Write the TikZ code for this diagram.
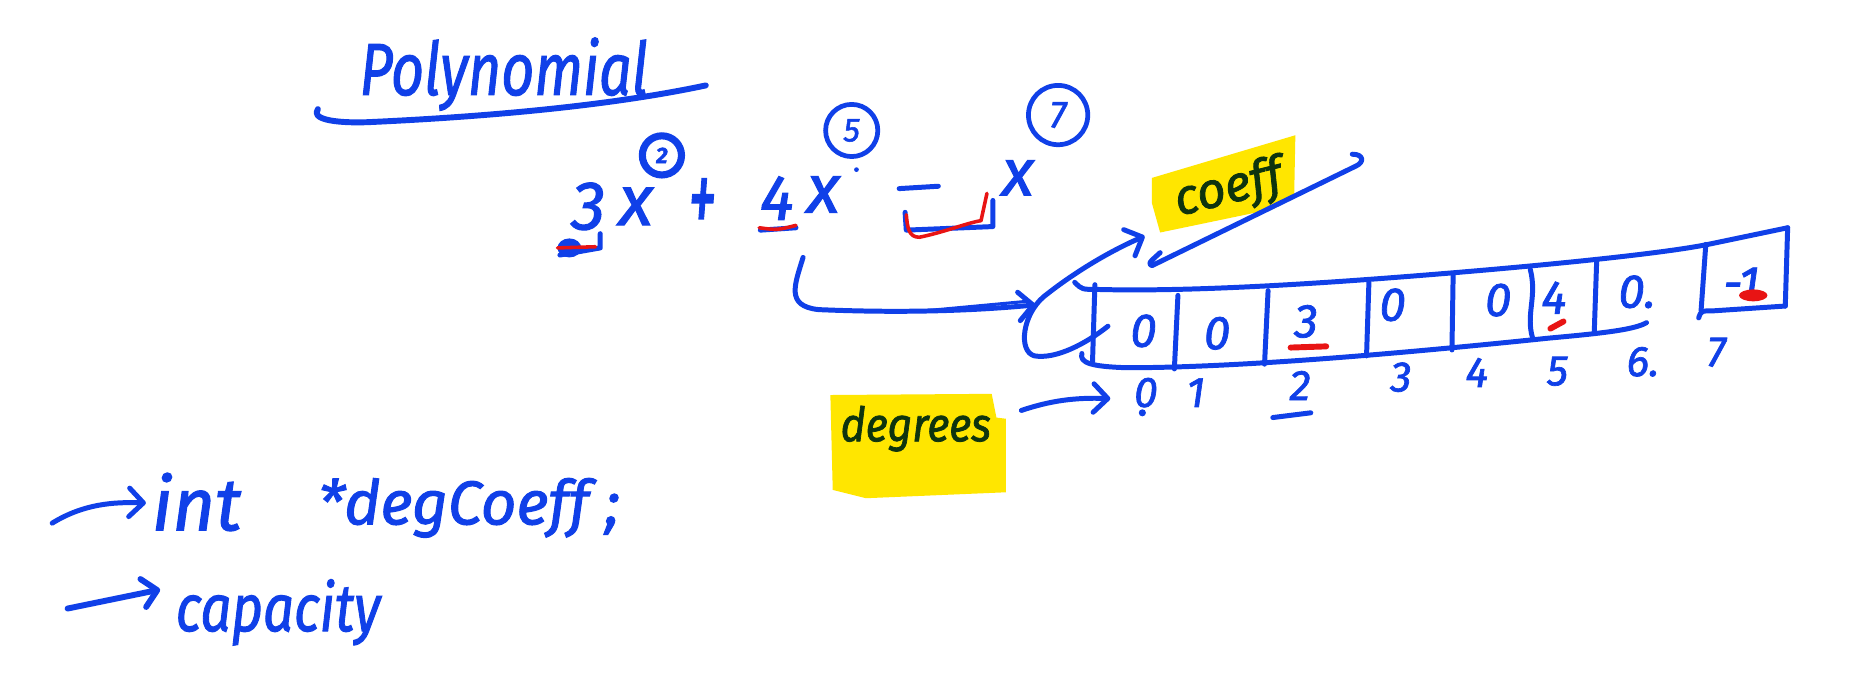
\documentclass[tikz,border=0pt]{standalone}
\usepackage{fontspec}
\setmainfont{Fira Sans}[FakeBold=1.6]
\usepackage{graphicx}
\usetikzlibrary{arrows.meta}
\definecolor{pen}{RGB}{16,64,232}
\definecolor{redpen}{RGB}{232,20,20}
\definecolor{hl}{RGB}{255,230,0}
\definecolor{ink}{RGB}{14,52,14}
\newcommand{\hfs}[1]{\fontsize{#1}{#1}\selectfont}
\tikzset{
  stroke/.style={draw=pen, line width=4.2pt, line cap=round, line join=round},
  redstroke/.style={draw=redpen, line width=3pt, line cap=round, line join=round},
  hand/.style={text=pen, inner sep=0pt, font=\itshape},
  hiltext/.style={text=ink, inner sep=0pt, font=\itshape},
  penarrow/.style={-{Straight Barb[length=12pt,width=24pt,line cap=round,line join=round]}},
  expcircle/.style={draw=pen, circle, line width=3.5pt, inner sep=0pt, text=pen, font=\itshape},
}
\begin{document}
\begin{tikzpicture}[x=1pt,y=-1pt]
\useasboundingbox (0,0) rectangle (1568,570);
\fill[white] (0,0) rectangle (1568,570);

% title
\node[hand, anchor=base west] (title) at (303,80) {\hfs{62}\scalebox{0.78}[1]{Polynomial}};
\draw[stroke, line width=5pt] (268,92) .. controls (262,100) and (280,104) .. (310,103) .. controls (420,98) and (520,88) .. (595,72);

% expression
\node[hand] (n3) at (496,174) {\hfs{58}3};
\node[hand] (x1) at (536,174) {\hfs{60}x};
\node[expcircle, line width=6pt, minimum size=33pt] (e2) at (558,131) {\hfs{19}\bfseries 2};
\node[hand] (plus) at (592,174) {\hfs{60}\scalebox{0.8}[1.5]{+}};
\node[hand] (n4) at (655,167) {\hfs{54}4};
\node[hand] (x2) at (694,164) {\hfs{58}x};
\node[expcircle, line width=4pt, minimum size=44pt] (e5) at (718,110) {\hfs{28}5};
\node[hand] (x3) at (858,150) {\hfs{56}x};
\node[expcircle, line width=4pt, minimum size=50pt] (e7) at (892,97) {\hfs{32}7};
\draw[stroke] (758,159) -- (791,157);
\draw[stroke] (763,179) -- (764,194) -- (837,191) -- (837,169);
\draw[redstroke] (764,181) .. controls (765,192) and (766,200) .. (775,200) .. controls (795,196) and (815,188) .. (827,186) -- (832,163);
\fill[pen] (722,143) circle (2);
% underline of 3
\draw[stroke] (506,197) -- (506,209) -- (472,215);
\fill[pen] (480,209) ellipse (10 and 8);
\draw[redstroke] (470,209) -- (502,208);
% underline of 4
\draw[stroke] (641,194) -- (671,192);
\draw[redstroke] (640,192) .. controls (655,194) .. (671,190);

% arrow from 4x to the array
\coordinate (a4s) at (677,217);
\coordinate (a4e) at (873,257);
\draw[stroke, penarrow] (a4s) .. controls (670,240) and (662,258) .. (690,261) .. controls (760,264) and (820,262) .. (a4e);
\draw[stroke, line width=2.6pt] (780,262) -- (866,254);

% loop + arrow to coeff
\coordinate (loopst) at (934,275);
\coordinate (cotip) at (965,199);
\draw[stroke, penarrow] (loopst) .. controls (915,290) and (890,303) .. (872,300) .. controls (858,296) and (862,265) .. (880,250) .. controls (905,230) and (935,212) .. (cotip);

% coeff label
\fill[hl] (971,150) -- (1092,114) -- (1091,165) -- (1074,176) -- (978,196) -- (971,171) -- cycle;
\node[hiltext, rotate=14] (coeff) at (1036,160) {\hfs{42}coeff};
\draw[stroke] (1140,130) .. controls (1150,130) and (1150,137) .. (1143,140) -- (971,224) .. controls (968,222) .. (978,213);

% array
\draw[stroke] (906,238) .. controls (912,244) .. (925,244) .. controls (1000,246) and (1100,240) .. (1200,232) .. controls (1300,224) and (1400,214) .. (1440,206) -- (1507,192);
\draw[stroke] (1507,192) -- (1505,258);
\draw[stroke] (1432,268) .. controls (1434,262) .. (1445,262) -- (1505,258);
\draw[stroke] (912,298) .. controls (910,306) and (920,309) .. (950,310) .. controls (1050,310) and (1200,296) .. (1306,285) .. controls (1350,281) and (1378,278) .. (1388,272);
\draw[stroke] (923,240) -- (921,305);
\draw[stroke] (993,249) -- (990,311);
\draw[stroke] (1069,245) -- (1066,307);
\draw[stroke] (1154,238) -- (1152,300);
\draw[stroke] (1225,232) -- (1224,295);
\draw[stroke] (1290,227) .. controls (1296,250) and (1286,265) .. (1292,285);
\draw[stroke] (1346,220) -- (1344,279);
\draw[stroke] (1438,206) -- (1434,262);

\node[hand] (v0) at (964,279) {\hfs{40}0};
\node[hand] (v1) at (1026,281) {\hfs{40}0};
\node[hand] (v2) at (1101,271) {\hfs{40}3};
\node[hand] (v3) at (1174,257) {\hfs{40}0};
\node[hand] (v4) at (1263,253) {\hfs{40}0};
\node[hand] (v5) at (1310,251) {\hfs{40}4};
\node[hand] (v6) at (1380,246) {\hfs{40}0.};
\node[hand] (v7) at (1468,239) {\hfs{40}-1};
\draw[redpen, line width=5pt, line cap=round] (1088,293) -- (1118,292);
\draw[redpen, line width=5pt, line cap=round] (1307,277) -- (1318,271);
\fill[redpen] (1478,249) ellipse (12 and 5);

% indices
\node[hand] (i0) at (966,331) {\hfs{36}0};
\fill[pen] (963,348) circle (3);
\node[hand] (i1) at (1008,331) {\hfs{36}1};
\node[hand] (i2) at (1096,325) {\hfs{36}2};
\draw[stroke] (1073,352) -- (1105,348);
\node[hand] (i3) at (1181,318) {\hfs{36}3};
\node[hand] (i4) at (1245,314) {\hfs{36}4};
\node[hand] (i5) at (1313,313) {\hfs{36}5};
\node[hand] (i6) at (1385,305) {\hfs{36}6.};
\node[hand] (i7) at (1447,297) {\hfs{36}7};

% degrees label
\fill[hl] (700,333) -- (836,332) -- (840,352) -- (848,353) -- (848,415) -- (730,420) -- (702,413) -- cycle;
\node[hiltext, anchor=base] (deg) at (772,372) {\hfs{40}\scalebox{0.9}[1]{degrees}};
\coordinate (degst) at (861,346);
\coordinate (degtip) at (936,336);
\draw[stroke, penarrow] (degst) .. controls (885,338) and (905,335) .. (degtip);

% members
\coordinate (m1s) at (44,441);
\coordinate (m1e) at (123,424);
\draw[stroke, penarrow] (m1s) .. controls (70,425) and (95,423) .. (m1e);
\node[hand, anchor=base west] (int) at (128,447) {\hfs{62}int};
\node[hand, anchor=base west] (decl) at (268,442) {\hfs{52}*degCoeff ;};
\coordinate (m2s) at (57,513);
\coordinate (m2e) at (135,497);
\draw[stroke, line width=5pt, penarrow] (m2s) -- (m2e);
\node[hand, anchor=base west] (cap) at (148,532) {\hfs{56}\scalebox{0.82}[1]{capacity}};
\end{tikzpicture}
\end{document}
